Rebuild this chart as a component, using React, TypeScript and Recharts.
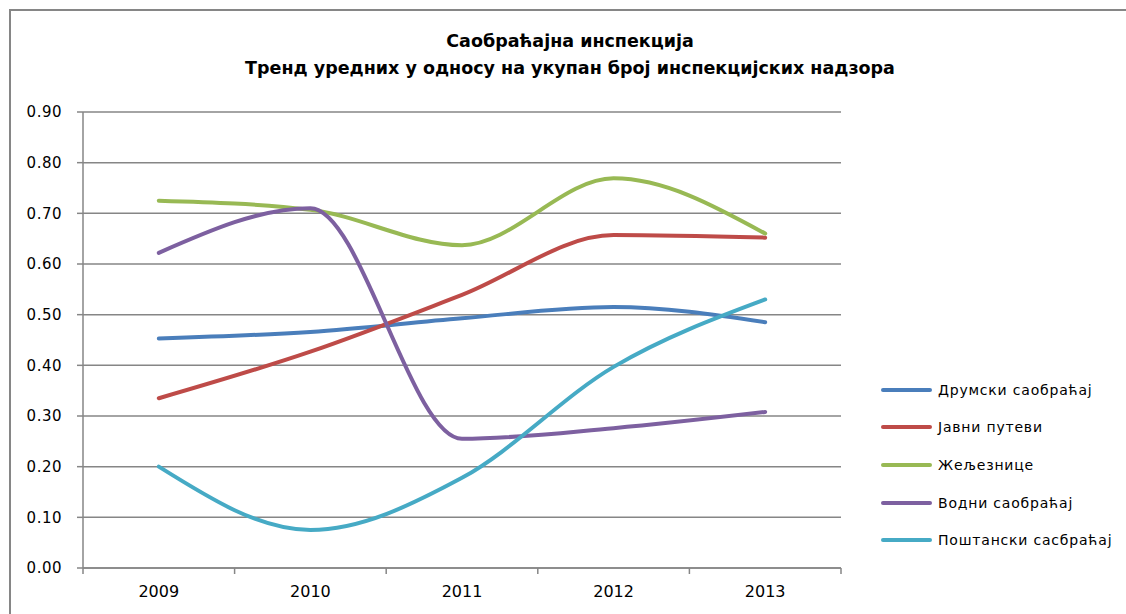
import React from "react";
import { CartesianGrid, Legend, Line, LineChart, XAxis, YAxis } from "recharts";

const years = ["2009", "2010", "2011", "2012", "2013"];

const series = [
  "Друмски саобраћај",
  "Јавни путеви",
  "Железнице",
  "Водни саобраћај",
  "Поштански сасбраћај",
];

const legendLabels = [
  "Друмски саобраћај",
  "Јавни путеви",
  "Жељезнице",
  "Водни саобраћај",
  "Поштански сасбраћај",
];

const drumski = [0.453, 0.466, 0.493, 0.515, 0.485];
const javniPutevi = [0.335, 0.427, 0.539, 0.657, 0.652];
const zeleznice = [0.725, 0.707, 0.637, 0.769, 0.66];
const vodni = [0.622, 0.71, 0.255, 0.276, 0.308];
const postanski = [0.2, 0.075, 0.178, 0.397, 0.53];

const yTicks = [0, 0.1, 0.2, 0.3, 0.4, 0.5, 0.6, 0.7, 0.8, 0.9];

const colors = ["#4A7EBB", "#BE4B48", "#98B954", "#7D60A0", "#46AAC5"];

const values = [drumski, javniPutevi, zeleznice, vodni, postanski];

const data = years.map((year, i) => {
  const row: Record<string, string | number> = { year };
  series.forEach((name, s) => {
    row[name] = values[s][i];
  });
  return row;
});

const FONT = "'DejaVu Sans', Verdana, sans-serif";
const GRID = "#868686";

// category label plus the small tick marks on the band edges (Excel style)
const YearTick = (props: any) => {
  const { x, y, payload, index, visibleTicksCount } = props;
  const half = payload && payload.offset ? payload.offset : 0;
  const axisY = y - 18;
  return (
    <g>
      <line x1={x - half} x2={x - half} y1={axisY} y2={axisY + 6} stroke={GRID} strokeWidth={1.5} />
      {index === visibleTicksCount - 1 && (
        <line x1={x + half} x2={x + half} y1={axisY} y2={axisY + 6} stroke={GRID} strokeWidth={1.5} />
      )}
      <text
        x={x}
        y={y}
        dy="0.71em"
        textAnchor="middle"
        fill="#000"
        fontSize={16}
        fontFamily={FONT}
      >
        {payload.value}
      </text>
    </g>
  );
};

const LegendList = () => (
  <div style={{ fontFamily: FONT, fontSize: 14, letterSpacing: 0.8 }}>
    {legendLabels.map((label, i) => (
      <div
        key={label}
        style={{ display: "flex", alignItems: "center", height: 37.6 }}
      >
        <span
          style={{
            display: "inline-block",
            width: 51,
            height: 4,
            borderRadius: 2,
            background: colors[i],
            marginRight: 6,
          }}
        />
        <span style={{ color: "#000" }}>{label}</span>
      </div>
    ))}
  </div>
);

export default function App() {
  return (
    <div
      style={{
        position: "absolute",
        left: 0,
        top: 0,
        width: 1126,
        height: 614,
        overflow: "hidden",
        background: "#fff",
      }}
    >
      <div
        style={{
          position: "absolute",
          left: 9,
          top: 9,
          width: 1200,
          height: 700,
          border: `2px solid ${GRID}`,
        }}
      />
      <div
        style={{
          position: "absolute",
          left: 0,
          top: 28,
          width: 1140,
          textAlign: "center",
          fontFamily: FONT,
          fontWeight: "bold",
          fontSize: 17.5,
          lineHeight: "27px",
          color: "#000",
        }}
      >
        <div>Саобраћајна инспекција</div>
        <div>Тренд уредних у односу на укупан број инспекцијских надзора</div>
      </div>
      <LineChart
        width={1126}
        height={614}
        data={data}
        margin={{ top: 112, right: 285, bottom: 6, left: 0 }}
        style={{ position: "absolute", left: 0, top: 0 }}
      >
        <CartesianGrid vertical={false} stroke={GRID} strokeWidth={1.5} />
        <XAxis
          dataKey="year"
          scale="band"
          height={40}
          axisLine={{ stroke: GRID, strokeWidth: 1.5 }}
          tickLine={false}
          tickSize={0}
          tickMargin={18}
          tick={<YearTick />}
        />
        <YAxis
          width={83}
          domain={[0, 0.9]}
          ticks={yTicks}
          tickFormatter={(v: number) => v.toFixed(2)}
          axisLine={{ stroke: GRID, strokeWidth: 1.5 }}
          tickLine={{ stroke: GRID, strokeWidth: 1.5 }}
          tickSize={6}
          tickMargin={15}
          tick={{ fill: "#000", fontSize: 15, fontFamily: FONT, letterSpacing: 0.5 }}
        />
        <Legend
          layout="horizontal"
          verticalAlign="middle"
          align="center"
          content={() => <LegendList />}
          wrapperStyle={{ left: 881, top: 371, width: 240, height: 200 }}
        />
        {series.map((name, i) => (
          <Line
            key={name}
            type="monotone"
            dataKey={name}
            stroke={colors[i]}
            strokeWidth={4}
            strokeLinecap="round"
            dot={false}
            activeDot={false}
            isAnimationActive={false}
          />
        ))}
      </LineChart>
    </div>
  );
}
